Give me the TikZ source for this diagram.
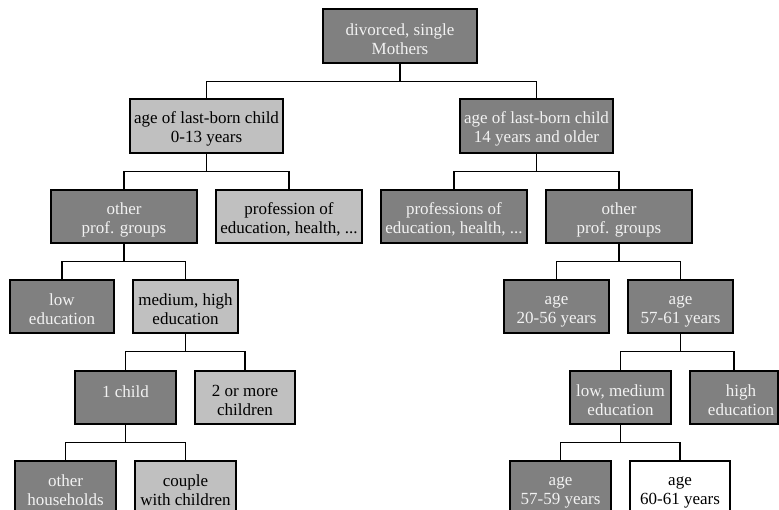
\documentclass[tikz,border=0pt]{standalone}
\usepackage{fontspec}
\setmainfont{Liberation Serif}
\definecolor{darkf}{HTML}{808080}
\definecolor{lightf}{HTML}{C0C0C0}
\definecolor{txtl}{HTML}{F2F2F2}
\newcommand{\ls}{\rule{0pt}{18pt}}
\tikzset{
  box/.style={draw=black, line width=1.4pt, rectangle, inner sep=0pt, align=center,
    font=\fontsize{17}{19}\selectfont, minimum height=53pt},
  darkbox/.style={box, fill=darkf, text=txtl},
  lightbox/.style={box, fill=lightf, text=black},
  whitebox/.style={box, fill=white, text=black},
  conn/.style={draw=black, line width=1.4pt},
}
\begin{document}
\begin{tikzpicture}[x=1pt,y=-1pt]
\clip (0,0) rectangle (779,509);
\fill[white] (0,0) rectangle (779,509);
% level 0
\node[darkbox, minimum width=154pt, minimum height=54pt] (root) at (400,36) {\ls divorced, single\\Mothers};
% level 1
\node[lightbox, minimum width=153pt, minimum height=54pt] (a1) at (206.5,126) {\ls age of last-born child\\0-13 years};
\node[darkbox, minimum width=153pt, minimum height=54pt] (a2) at (536.5,126) {\ls age of last-born child\\14 years and older};
% level 2
\node[darkbox, minimum width=146pt] (b1) at (124,216.5) {\ls other\\prof. groups};
\node[lightbox, minimum width=146pt] (b2) at (289,216.5) {\ls profession of\\education, health, ...};
\node[darkbox, minimum width=146pt] (b3) at (454,216.5) {\ls professions of\\education, health, ...};
\node[darkbox, minimum width=146pt] (b4) at (619,216.5) {\ls other\\prof. groups};
% level 3
\node[darkbox, minimum width=104pt] (c1) at (62,306.5) {\ls low\\education};
\node[lightbox, minimum width=105pt] (c2) at (185.5,306.5) {\ls medium, high\\education};
\node[darkbox, minimum width=105pt] (c3) at (556.5,306.5) {\ls age\\20-56 years};
\node[darkbox, minimum width=105pt] (c4) at (680.5,306.5) {\ls age\\57-61 years};
% level 4
\node[darkbox, minimum width=101pt] (d1) at (125.5,397.5) {\ls 1 child\\~};
\node[lightbox, minimum width=100pt] (d2) at (245,397.5) {\ls 2 or more\\children};
\node[darkbox, minimum width=101pt] (d3) at (620.5,397.5) {\ls low, medium\\education};
\node[darkbox, minimum width=88pt,
  label={[align=center, text=txtl, font=\fontsize{17}{19}\selectfont, inner sep=0pt, xshift=7pt, yshift=-3pt]center:{high\\education}}] (d4) at (734,397.5) {};
% level 5
\node[darkbox, minimum width=101pt] (e1) at (65.5,487.5) {\ls other\\households};
\node[lightbox, minimum width=101pt] (e2) at (185.5,487.5) {\ls couple\\with children};
\node[darkbox, minimum width=101pt] (e3) at (560.5,487.5) {\ls age\\57-59 years};
\node[whitebox, minimum width=100pt] (e4) at (680,487.5) {\ls age\\60-61 years};
% connectors
\foreach \p/\c in {root/a1, root/a2, a1/b1, a1/b2, a2/b3, a2/b4, b1/c1, b1/c2, b4/c3, b4/c4, c2/d1, c2/d2, c4/d3, c4/d4, d1/e1, d1/e2, d3/e3, d3/e4}
  \draw[conn] (\p.south) -- ++(0,18) -| (\c.north);
\end{tikzpicture}
\end{document}
